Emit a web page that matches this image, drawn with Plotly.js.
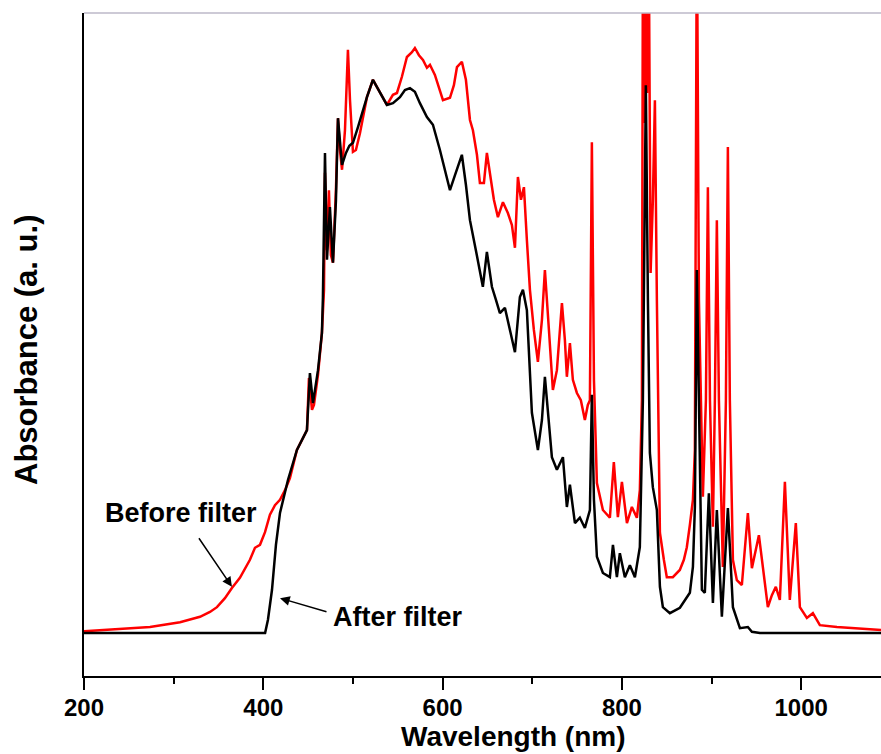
<!DOCTYPE html>
<html>
<head>
<meta charset="utf-8">
<script src="https://cdn.plot.ly/plotly-3.0.1.min.js"></script>
<style>html,body{margin:0;padding:0;background:#fff;}#chart{width:881px;height:754px;}</style>
</head>
<body>
<div id="chart"></div>
<script>
// Wavelength (nm) and absorbance (a.u.)
const afterWl = [200,402,405.2,409.7,414.1,418.6,427.5,437.5,448.7,452.0,455.4,461.0,465.4,466.5,468.8,471,474.3,477.7,481,483.3,487.8,492.2,496,500,505.6,515.6,522.3,530.1,537.9,544.6,552.4,558,563.6,569.1,574.7,582.5,589.2,597,602.6,608.2,613.8,621.5,626,630.5,637.1,644.9,649.4,655,659.5,663.9,669.5,675.1,680.7,686.2,689.6,694.0,699.6,706.3,710.8,714.1,717.5,721.9,727.5,734.2,738.6,742,747.6,753.1,758.7,764.3,766.5,768.8,772.1,778.8,786.6,790,794.4,797.7,803.3,808.9,814.5,820,823.4,826.7,829,831.2,834.5,839,842.4,845.7,853.5,864.7,875.8,879.2,881.4,883.6,885.9,889.2,892.5,897,901.5,905.9,911.5,918.2,923.8,931.6,940.5,945,953.9,1089];
const afterAbs = [0,0,0.022,0.072,0.147,0.200,0.255,0.305,0.338,0.433,0.383,0.438,0.500,0.560,0.800,0.622,0.710,0.617,0.720,0.858,0.780,0.800,0.812,0.817,0.843,0.893,0.922,0.902,0.880,0.883,0.893,0.905,0.908,0.902,0.883,0.860,0.847,0.805,0.772,0.738,0.763,0.797,0.747,0.688,0.638,0.577,0.635,0.577,0.555,0.533,0.542,0.505,0.468,0.560,0.572,0.538,0.367,0.305,0.355,0.427,0.372,0.293,0.272,0.293,0.210,0.247,0.183,0.192,0.175,0.205,0.397,0.222,0.127,0.100,0.093,0.147,0.093,0.133,0.093,0.113,0.093,0.143,0.388,0.913,0.555,0.300,0.243,0.205,0.077,0.043,0.033,0.042,0.067,0.110,0.210,0.605,0.388,0.072,0.067,0.233,0.050,0.205,0.027,0.208,0.043,0.008,0.010,0.002,0,0];

const beforeWl = [200,240.1,273.6,307.1,329.4,340.5,348.3,357.2,365,373.9,385.1,390.7,396.3,401.9,407.4,413,418.6,424.2,429.7,437.5,448.7,450.9,454.3,456.5,461,465.4,467.7,468.8,471,473.2,475.4,477.7,481,483.3,485.5,487.8,491.1,494.4,496.7,500,503.3,507.8,515.6,522.3,530.1,537.9,544.6,549.1,554.6,560.2,565.8,569.1,573.6,578.1,582.5,585.9,591.4,600.4,608.2,612.6,616,621.5,626,630.5,633.8,638.3,641.6,646.1,649.4,652.8,657.2,661.7,667.3,672.8,677.3,680.7,684,687.4,690.7,694,697.4,701.8,706.3,710.8,714.1,718.6,723,727.5,733.1,736.4,738.6,742,745.3,749.8,754.2,758.7,762,764.3,766.5,768.8,772.1,778.8,786.6,791,795.5,800,805.6,811.1,816.7,820,822.3,823.5,825.3,826.5,828,829.8,832,834.5,836.8,839,842.4,846.8,850.1,856.8,864.6,869.1,872.4,875.8,879.2,881.4,883.6,885.9,890.3,893.7,895.9,898.2,901.5,903.7,905.9,908.2,912.6,916,918.2,920.4,923.8,928.2,933.8,940.5,945,952.8,959.5,962.8,967.3,971.7,976.2,981.8,987.3,994,998.5,1006.3,1013,1020.8,1039.8,1065.4,1089];
const beforeAbs = [0.003,0.007,0.010,0.018,0.027,0.035,0.043,0.058,0.075,0.092,0.122,0.142,0.147,0.168,0.197,0.213,0.222,0.238,0.258,0.305,0.338,0.425,0.372,0.380,0.430,0.500,0.572,0.767,0.638,0.738,0.630,0.617,0.738,0.858,0.805,0.772,0.838,0.972,0.888,0.802,0.805,0.833,0.893,0.922,0.902,0.880,0.897,0.900,0.927,0.960,0.968,0.975,0.963,0.955,0.942,0.947,0.930,0.888,0.892,0.913,0.943,0.952,0.922,0.855,0.838,0.797,0.750,0.750,0.800,0.763,0.722,0.693,0.718,0.700,0.680,0.642,0.760,0.722,0.743,0.655,0.572,0.505,0.452,0.522,0.605,0.505,0.405,0.438,0.550,0.488,0.427,0.483,0.422,0.400,0.388,0.355,0.380,0.388,0.818,0.422,0.250,0.205,0.192,0.285,0.193,0.252,0.183,0.210,0.192,0.238,0.388,1.2,0.85,1.2,0.9,1.2,0.6,0.72,0.888,0.555,0.167,0.122,0.093,0.093,0.105,0.122,0.143,0.180,0.222,0.305,1.2,0.555,0.227,0.388,0.743,0.388,0.177,0.388,0.688,0.388,0.110,0.388,0.810,0.388,0.122,0.088,0.080,0.200,0.108,0.163,0.077,0.043,0.063,0.077,0.055,0.252,0.055,0.183,0.043,0.025,0.033,0.013,0.010,0.007,0.005];

const xTickVals = [200,400,600,800,1000];
const xTickText = ['200','400','600','800','1000'];

const FONT = 'Arial, "Liberation Sans", sans-serif';

const traces = [
  {x: beforeWl, y: beforeAbs, type:'scatter', mode:'lines', name:'Before filter',
   line:{color:'#ff0000', width:2.5}},
  {x: afterWl, y: afterAbs, type:'scatter', mode:'lines', name:'After filter',
   line:{color:'#000000', width:2.5}}
];

const layout = {
  width: 881, height: 754,
  margin: {l:84, r:0, t:13, b:78},
  paper_bgcolor:'#ffffff', plot_bgcolor:'#ffffff',
  showlegend:false,
  font:{family:FONT, color:'#000'},
  xaxis:{
    range:[200,1089], tickvals:xTickVals, ticktext:xTickText,
    showgrid:false, zeroline:false, showline:true, linecolor:'#000', linewidth:2,
    ticks:'outside', ticklen:12, tickwidth:2, tickcolor:'#000',
    minor:{dtick:100, ticks:'outside', ticklen:6, tickwidth:2, tickcolor:'#000', showgrid:false},
    tickfont:{size:24, family:FONT, weight:'bold'},
    ticklabelstandoff:-3,
    automargin:false
  },
  yaxis:{
    range:[-0.0717,1.0333], showticklabels:false, ticks:'',
    showgrid:false, zeroline:false, showline:true, linecolor:'#000', linewidth:2,
    automargin:false
  },
  shapes:[
    {type:'line', xref:'paper', yref:'paper', x0:0, x1:1, y0:1, y1:1, line:{color:'#bdb8c8', width:1.5}}
  ],
  annotations:[
    {x:0.5395, y:-0.091, xref:'paper', yref:'paper', text:'<b>Wavelength (nm)</b>', showarrow:false,
     xanchor:'center', yanchor:'middle', font:{size:28, family:FONT, color:'#000'}},
    {x:-0.0728, y:0.4917, xref:'paper', yref:'paper', text:'<b>Absorbance (a. u.)</b>', showarrow:false,
     textangle:-90, xanchor:'center', yanchor:'middle', font:{size:31, family:FONT, color:'#000'}},
    {x:308, y:0.2, xref:'x', yref:'y', text:'<b>Before filter</b>', showarrow:false,
     font:{size:27, family:FONT, color:'#000'}},
    {x:550, y:0.027, xref:'x', yref:'y', text:'<b>After filter</b>', showarrow:false,
     font:{size:27, family:FONT, color:'#000'}},
    {x:365, y:0.077, xref:'x', yref:'y', text:'', showarrow:true, ax:-34, ay:-50,
     arrowhead:2, arrowsize:1.3, arrowwidth:1.5, arrowcolor:'#000'},
    {x:418.6, y:0.058, xref:'x', yref:'y', text:'', showarrow:true, ax:48, ay:14,
     arrowhead:2, arrowsize:1.3, arrowwidth:1.5, arrowcolor:'#000'}
  ]
};

Plotly.newPlot('chart', traces, layout, {displayModeBar:false, staticPlot:true});
</script>
</body>
</html>
